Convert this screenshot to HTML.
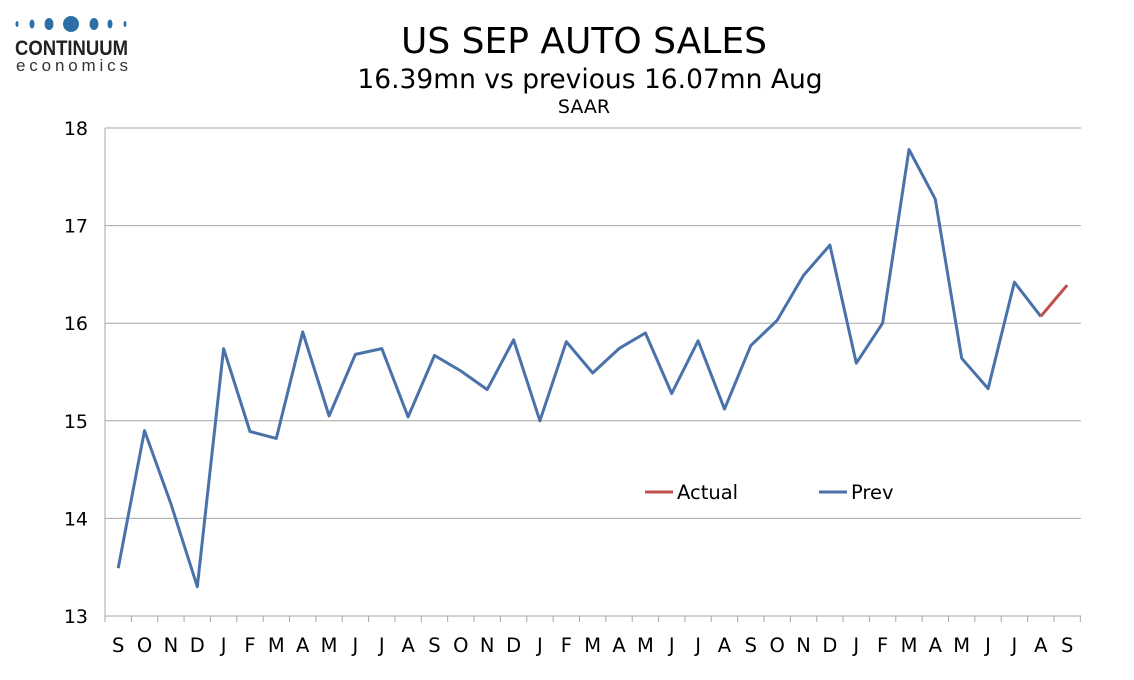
<!DOCTYPE html>
<html><head><meta charset="utf-8"><style>
body{margin:0;background:#fff;width:1134px;height:680px;overflow:hidden}
svg{display:block}
text{font-family:"DejaVu Sans","Liberation Sans",sans-serif}
</style></head><body>
<svg id="s" width="1134" height="680" xmlns="http://www.w3.org/2000/svg">
<rect width="1134" height="680" fill="#fff"/>
<g fill="#2e6ea6">
<ellipse cx="17" cy="24" rx="1.5" ry="3"/>
<ellipse cx="32" cy="24" rx="2.5" ry="4.5"/>
<ellipse cx="49" cy="24" rx="4.5" ry="6"/>
<circle cx="71" cy="24" r="8"/>
<ellipse cx="94" cy="24" rx="4.5" ry="6"/>
<ellipse cx="110" cy="24" rx="2.5" ry="4.5"/>
<ellipse cx="125" cy="24" rx="1.5" ry="3"/>
</g>
<text x="15" y="55" font-size="21" font-weight="bold" fill="#222" textLength="113" lengthAdjust="spacingAndGlyphs" style="font-family:'Liberation Sans',sans-serif">CONTINUUM</text>
<text x="16" y="71" font-size="17" fill="#333" textLength="112" lengthAdjust="spacing" style="font-family:'Liberation Sans',sans-serif">economics</text>
<text x="584" y="53" font-size="36" text-anchor="middle" fill="#000">US SEP AUTO SALES</text>
<text x="590" y="88" font-size="26.5" text-anchor="middle" fill="#000">16.39mn vs previous 16.07mn Aug</text>
<text x="584" y="113" font-size="19" text-anchor="middle" fill="#000">SAAR</text>
<g id="g"></g>
</svg>
<script>
var g=document.getElementById('g'),h='';
function y(v){return 616-(v-13)*97.6;}
for(var v=13;v<=18;v++){h+='<line x1="105" x2="1081" y1="'+y(v)+'" y2="'+y(v)+'" stroke="#a6a6a6" stroke-width="1"/>';
h+='<text x="88" y="'+(y(v)+7)+'" font-size="19" text-anchor="end">'+v+'</text>';}
h+='<line x1="105" x2="105" y1="128" y2="616" stroke="#a6a6a6"/>';
var L="SONDJFMAMJJASONDJFMAMJJASONDJFMAMJJAS".split('');
var d=[13.49,14.9,14.15,13.3,15.74,14.89,14.82,15.91,15.05,15.68,15.74,15.04,15.67,15.51,15.32,15.83,15.0,15.81,15.49,15.74,15.9,15.28,15.82,15.12,15.77,16.03,16.49,16.8,15.59,16.0,17.78,17.27,15.64,15.33,16.42,16.07,16.39];
var w=26.36,x0=105;
for(var i=0;i<=37;i++){var xx=x0+i*w;h+='<line x1="'+xx+'" x2="'+xx+'" y1="616" y2="622" stroke="#a6a6a6"/>';}
var p='';
for(var i=0;i<37;i++){var xx=x0+w/2+i*w;h+='<text x="'+xx+'" y="652" font-size="19.5" text-anchor="middle">'+L[i]+'</text>';
if(i<36)p+=(i?'L':'M')+xx.toFixed(1)+' '+y(d[i]).toFixed(1);}
h+='<path d="'+p+'" fill="none" stroke="#4a72aa" stroke-width="3" stroke-linejoin="round"/>';
var xa=x0+w/2+35*w,xb=x0+w/2+36*w;
h+='<line x1="'+xa+'" y1="'+y(16.07)+'" x2="'+xb+'" y2="'+y(16.39)+'" stroke="#c0504d" stroke-width="3"/>';
h+='<line x1="645" x2="673" y1="492" y2="492" stroke="#c0504d" stroke-width="3"/><text x="677" y="499" font-size="19.5">Actual</text>';
h+='<line x1="819" x2="847" y1="492" y2="492" stroke="#4a72aa" stroke-width="3"/><text x="851" y="499" font-size="19.5">Prev</text>';
g.innerHTML=h;
</script>
</body></html>
